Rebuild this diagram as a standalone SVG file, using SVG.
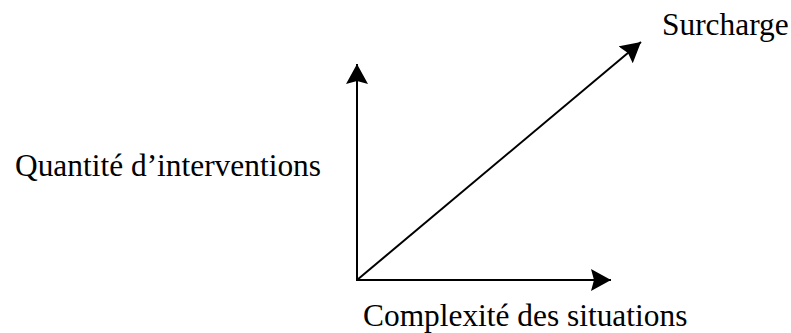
<svg xmlns="http://www.w3.org/2000/svg" width="791" height="333" viewBox="0 0 791 333">
<style>
.lbl{font-family:"Liberation Serif","Times New Roman",serif;font-size:31.4px;fill:#000}
.ax{stroke:#000;stroke-width:2;fill:none}
</style>
<defs>
<marker id="ah" markerUnits="userSpaceOnUse" markerWidth="22" markerHeight="22" refX="20" refY="11" orient="auto">
<path d="M0,0 L20,11 L0,22 L3,11 Z" fill="#000"/>
</marker>
</defs>
<rect width="791" height="333" fill="#fff"/>
<g id="connectors">
<line class="ax" x1="357" y1="281" x2="357" y2="64" marker-end="url(#ah)"/>
<line class="ax" x1="356" y1="280" x2="611" y2="280" marker-end="url(#ah)"/>
<line class="ax" x1="357" y1="280" x2="641" y2="42" marker-end="url(#ah)"/>
</g>
<g id="label-y"><text class="lbl" x="15" y="176">Quantité d’interventions</text></g>
<g id="label-x"><text class="lbl" x="363" y="326">Complexité des situations</text></g>
<g id="label-diag"><text class="lbl" x="662" y="35">Surcharge</text></g>
</svg>
